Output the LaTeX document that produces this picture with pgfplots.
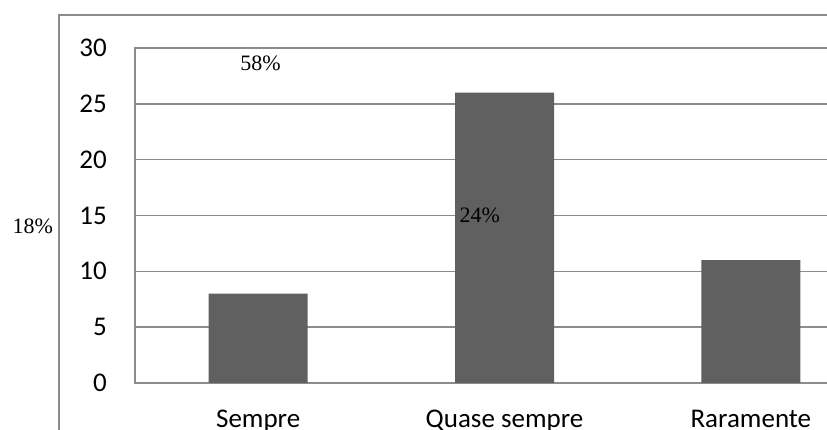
\documentclass[border=0pt]{standalone}
\usepackage{pgfplots}
\pgfplotsset{compat=1.18}
\usepackage{fontspec}
\setmainfont{Carlito}
\newfontfamily\serifpct{Liberation Serif}
\definecolor{barfill}{RGB}{96,96,96}
\definecolor{linegray}{RGB}{140,140,140}

\begin{document}
\begin{tikzpicture}
% page area: 827 x 430
\path[use as bounding box] (0pt,0pt) rectangle (827pt,430pt);
\clip (0pt,0pt) rectangle (827pt,430pt);
% chart area border
\draw[linegray, line width=1.6pt] (59pt,-5pt) -- (59pt,415pt) -- (840pt,415pt);
\begin{axis}[
  at={(135pt,47pt)}, anchor=south west,
  scale only axis,
  width=739pt, height=335pt,
  xmin=-0.5, xmax=2.5,
  ymin=0, ymax=30,
  ytick={0,5,10,15,20,25,30},
  xtick={0,1,2},
  xticklabels={Sempre, Quase sempre, Raramente},
  major tick length=0pt,
  ymajorgrids,
  grid style={linegray, line width=1.6pt},
  axis line style={linegray, line width=1.6pt},
  tick label style={font=\fontsize{27}{30}\selectfont, text=black},
  yticklabel style={anchor=east, inner sep=0pt, xshift=-28pt},
  xticklabel style={anchor=base, inner sep=0pt, yshift=-45pt},
  /pgf/number format/assume math mode=true,
  clip=false,
]
\addplot[ybar, bar width=99pt, fill=barfill, draw=none]
  coordinates {(0,8) (1,26) (2,11)};
% percentage labels
\node[font=\serifpct\fontsize{22}{24}\selectfont, inner sep=0pt] at (axis cs:0.01,28.65) {58\%};
\node[font=\serifpct\fontsize{22}{24}\selectfont, inner sep=0pt] at (axis cs:0.90,15.04) {24\%};
\node[font=\serifpct\fontsize{22}{24}\selectfont, inner sep=0pt] at (axis cs:-0.915,14.06) {18\%};
\end{axis}
\end{tikzpicture}
\end{document}
